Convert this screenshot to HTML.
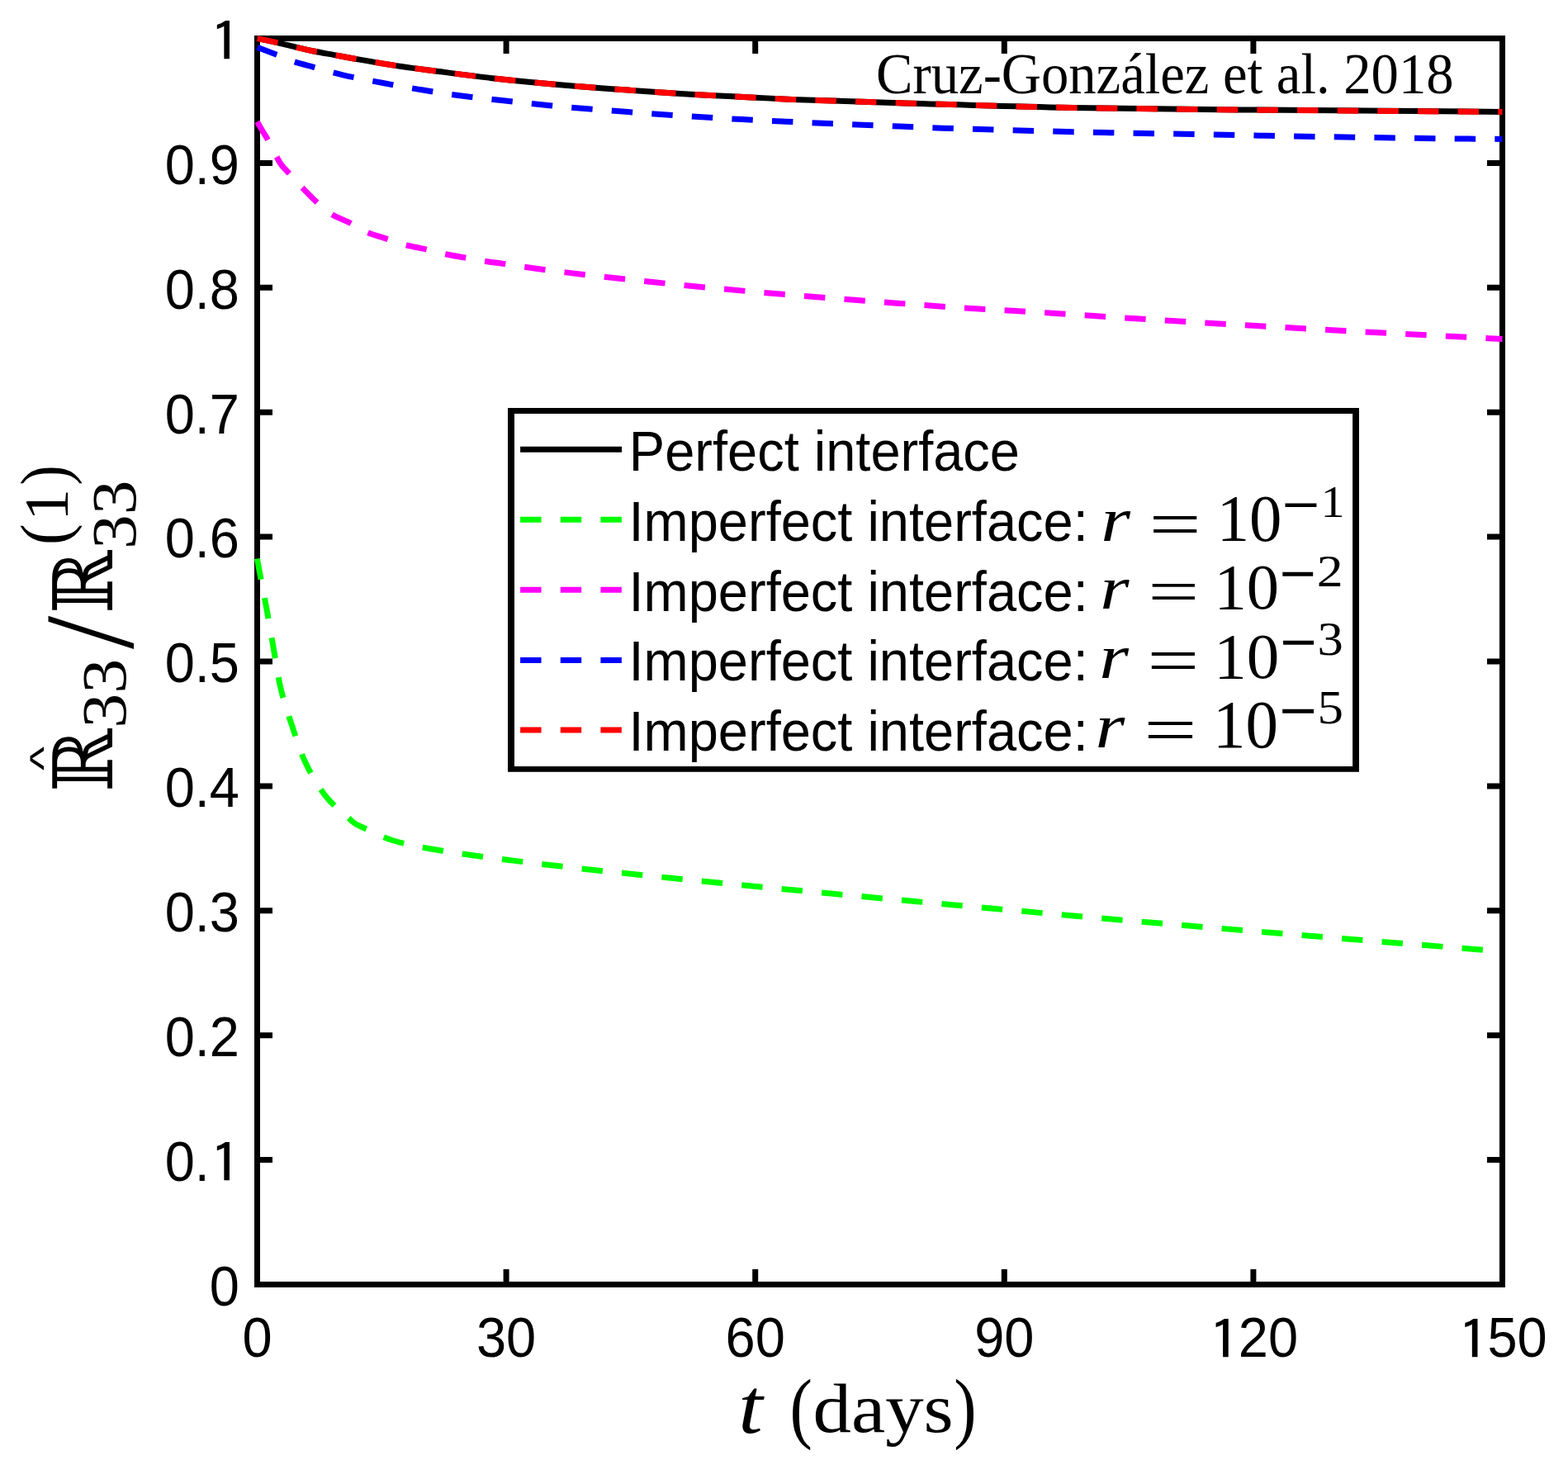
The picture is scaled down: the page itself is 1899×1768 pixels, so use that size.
<!DOCTYPE html>
<html><head><meta charset="utf-8"><title>plot</title>
<style>html,body{margin:0;padding:0;background:#fff;overflow:hidden}svg{display:block}text{font-kerning:none;font-variant-ligatures:none}</style>
</head><body>
<svg width="1899" height="1768" viewBox="0 0 1899 1768">
<rect x="0" y="0" width="1899" height="1768" fill="#fff"/>
<rect x="311.5" y="46.5" width="1508.0" height="1509.0" fill="none" stroke="#000" stroke-width="7"/>
<path d="M311.5,1555.50H330.0M1819.5,1555.50H1801.0" stroke="#000" stroke-width="7"/>
<path d="M311.5,1404.60H330.0M1819.5,1404.60H1801.0" stroke="#000" stroke-width="7"/>
<path d="M311.5,1253.70H330.0M1819.5,1253.70H1801.0" stroke="#000" stroke-width="7"/>
<path d="M311.5,1102.80H330.0M1819.5,1102.80H1801.0" stroke="#000" stroke-width="7"/>
<path d="M311.5,951.90H330.0M1819.5,951.90H1801.0" stroke="#000" stroke-width="7"/>
<path d="M311.5,801.00H330.0M1819.5,801.00H1801.0" stroke="#000" stroke-width="7"/>
<path d="M311.5,650.10H330.0M1819.5,650.10H1801.0" stroke="#000" stroke-width="7"/>
<path d="M311.5,499.20H330.0M1819.5,499.20H1801.0" stroke="#000" stroke-width="7"/>
<path d="M311.5,348.30H330.0M1819.5,348.30H1801.0" stroke="#000" stroke-width="7"/>
<path d="M311.5,197.40H330.0M1819.5,197.40H1801.0" stroke="#000" stroke-width="7"/>
<path d="M311.5,46.50H330.0M1819.5,46.50H1801.0" stroke="#000" stroke-width="7"/>
<path d="M311.50,1555.5V1537.0M311.50,46.5V65.0" stroke="#000" stroke-width="7"/>
<path d="M613.10,1555.5V1537.0M613.10,46.5V65.0" stroke="#000" stroke-width="7"/>
<path d="M914.70,1555.5V1537.0M914.70,46.5V65.0" stroke="#000" stroke-width="7"/>
<path d="M1216.30,1555.5V1537.0M1216.30,46.5V65.0" stroke="#000" stroke-width="7"/>
<path d="M1517.90,1555.5V1537.0M1517.90,46.5V65.0" stroke="#000" stroke-width="7"/>
<path d="M1819.50,1555.5V1537.0M1819.50,46.5V65.0" stroke="#000" stroke-width="7"/>
<path d="M311.50,676.50 C312.13,680.19 312.77,683.90 313.40,687.40 C316.47,704.36 319.53,718.86 322.60,735.60 C325.40,750.88 328.20,767.55 331.00,783.40 C333.87,799.62 336.73,819.52 339.60,831.80 C344.17,851.36 348.73,863.86 353.30,877.70 C358.87,894.56 364.43,911.99 370.00,923.60 C378.53,941.40 387.07,955.12 395.60,965.40 C404.27,975.84 412.93,982.70 421.60,990.20 C424.93,993.09 428.27,996.32 431.60,998.30 C434.70,1000.15 437.80,1001.28 440.90,1002.70 C452.27,1007.89 463.63,1014.09 475.00,1017.50 C490.17,1022.05 505.33,1024.97 520.50,1027.70 C553.43,1033.63 586.37,1037.72 619.30,1041.90 C683.80,1050.08 748.30,1056.63 812.80,1063.30 C877.30,1069.97 941.80,1076.00 1006.30,1082.10 C1040.10,1085.30 1073.90,1088.40 1107.70,1091.50 C1187.13,1098.78 1266.57,1106.08 1346.00,1113.00 C1426.73,1120.03 1507.47,1126.72 1588.20,1133.40 C1652.93,1138.75 1717.67,1144.00 1782.40,1149.20 C1794.10,1150.14 1805.80,1151.07 1817.50,1152.00" fill="none" stroke="#00ff00" stroke-width="7" stroke-linejoin="round" stroke-dasharray="25.45 23.2"/>
<path d="M311.50,147.50 C313.43,150.84 315.37,154.14 317.30,157.40 C319.40,160.94 321.50,164.16 323.60,167.90 C327.23,174.36 330.87,182.44 334.50,189.00 C336.47,192.55 338.43,196.39 340.40,199.10 C343.40,203.23 346.40,205.88 349.40,209.20 C354.83,215.21 360.27,221.24 365.70,226.90 C371.33,232.77 376.97,238.70 382.60,243.80 C389.07,249.66 395.53,255.95 402.00,259.80 C409.30,264.14 416.60,266.27 423.90,269.90 C431.20,273.53 438.50,278.68 445.80,281.70 C453.37,284.83 460.93,286.83 468.50,289.30 C476.37,291.87 484.23,294.78 492.10,296.80 C499.97,298.82 507.83,300.08 515.70,301.90 C523.57,303.72 531.43,306.16 539.30,307.80 C547.17,309.44 555.03,310.62 562.90,312.00 C571.03,313.42 579.17,314.92 587.30,316.20 C595.17,317.43 603.03,318.45 610.90,319.60 C622.50,321.30 634.10,323.25 645.70,324.80 C694.67,331.36 743.63,336.71 792.60,341.80 C841.03,346.83 889.47,351.35 937.90,355.50 C986.33,359.65 1034.77,363.31 1083.20,366.90 C1115.80,369.31 1148.40,371.81 1181.00,373.80 C1197.30,374.80 1213.60,375.55 1229.90,376.50 C1294.60,380.27 1359.30,384.89 1424.00,388.80 C1488.67,392.71 1553.33,396.46 1618.00,400.00 C1685.17,403.68 1752.33,407.19 1819.50,410.50" fill="none" stroke="#ff00ff" stroke-width="7" stroke-linejoin="round" stroke-dasharray="25.45 23.2"/>
<path d="M311.50,57.20 C319.17,60.11 326.83,63.08 334.50,66.10 C341.50,68.85 348.50,72.18 355.50,74.50 C363.60,77.18 371.70,79.08 379.80,81.30 C391.63,84.54 403.47,88.07 415.30,90.80 C431.10,94.45 446.90,97.33 462.70,100.30 C478.70,103.31 494.70,106.20 510.70,108.80 C526.73,111.40 542.77,113.91 558.80,116.00 C575.00,118.11 591.20,119.80 607.40,121.60 C623.63,123.40 639.87,125.18 656.10,126.80 C669.23,128.11 682.37,129.42 695.50,130.50 C763.33,136.10 831.17,140.81 899.00,144.60 C915.13,145.50 931.27,146.25 947.40,147.00 C994.83,149.21 1042.27,151.14 1089.70,153.10 C1107.13,153.82 1124.57,154.61 1142.00,155.20 C1207.33,157.39 1272.67,159.07 1338.00,160.50 C1386.33,161.56 1434.67,162.19 1483.00,163.20 C1499.10,163.54 1515.20,164.00 1531.30,164.30 C1627.37,166.08 1723.43,167.74 1819.50,168.40" fill="none" stroke="#0000ff" stroke-width="7" stroke-linejoin="round" stroke-dasharray="25.45 23.2"/>
<path d="M311.50,46.60 C319.17,48.01 326.83,49.59 334.50,51.30 C342.23,53.03 349.97,55.19 357.70,57.00 C365.13,58.74 372.57,60.49 380.00,62.00 C388.33,63.69 396.67,65.07 405.00,66.60 C413.33,68.13 421.67,69.73 430.00,71.20 C446.67,74.14 463.33,77.10 480.00,79.60 C499.30,82.49 518.60,84.89 537.90,87.40 C557.20,89.91 576.50,92.59 595.80,94.70 C630.20,98.46 664.60,101.63 699.00,104.40 C752.67,108.72 806.33,112.56 860.00,115.50 C876.67,116.41 893.33,117.08 910.00,117.90 C926.50,118.71 943.00,119.72 959.50,120.40 C1005.00,122.28 1050.50,123.53 1096.00,124.90 C1164.00,126.95 1232.00,129.37 1300.00,130.50 C1366.67,131.61 1433.33,132.26 1500.00,132.90 C1606.50,133.93 1713.00,134.84 1819.50,135.40" fill="none" stroke="#000000" stroke-width="7" stroke-linejoin="round"/>
<path d="M311.50,46.60 C319.17,48.01 326.83,49.59 334.50,51.30 C342.23,53.03 349.97,55.19 357.70,57.00 C365.13,58.74 372.57,60.49 380.00,62.00 C388.33,63.69 396.67,65.07 405.00,66.60 C413.33,68.13 421.67,69.73 430.00,71.20 C446.67,74.14 463.33,77.10 480.00,79.60 C499.30,82.49 518.60,84.89 537.90,87.40 C557.20,89.91 576.50,92.59 595.80,94.70 C630.20,98.46 664.60,101.63 699.00,104.40 C752.67,108.72 806.33,112.56 860.00,115.50 C876.67,116.41 893.33,117.08 910.00,117.90 C926.50,118.71 943.00,119.72 959.50,120.40 C1005.00,122.28 1050.50,123.53 1096.00,124.90 C1164.00,126.95 1232.00,129.37 1300.00,130.50 C1366.67,131.61 1433.33,132.26 1500.00,132.90 C1606.50,133.93 1713.00,134.84 1819.50,135.40" fill="none" stroke="#ff0000" stroke-width="7" stroke-linejoin="round" stroke-dasharray="25.45 23.2"/>
<text transform="translate(253.85,1580.80) scale(1.0000,1.0450)" font-family='"Liberation Sans", Arial, sans-serif' font-size="65">0</text>
<text transform="translate(199.64,1429.90) scale(1.0000,1.0450)" font-family='"Liberation Sans", Arial, sans-serif' font-size="65">0.</text>
<text transform="translate(253.24,1433.27) scale(0.8102,0.6641)" font-family='"IPAGothic", "Liberation Sans", sans-serif' font-size="100" fill="#000">1</text>
<text transform="translate(199.64,1279.00) scale(1.0000,1.0450)" font-family='"Liberation Sans", Arial, sans-serif' font-size="65">0.2</text>
<text transform="translate(199.64,1128.10) scale(1.0000,1.0450)" font-family='"Liberation Sans", Arial, sans-serif' font-size="65">0.3</text>
<text transform="translate(199.64,977.20) scale(1.0000,1.0450)" font-family='"Liberation Sans", Arial, sans-serif' font-size="65">0.4</text>
<text transform="translate(199.64,826.30) scale(1.0000,1.0450)" font-family='"Liberation Sans", Arial, sans-serif' font-size="65">0.5</text>
<text transform="translate(199.64,675.40) scale(1.0000,1.0450)" font-family='"Liberation Sans", Arial, sans-serif' font-size="65">0.6</text>
<text transform="translate(199.64,524.50) scale(1.0000,1.0450)" font-family='"Liberation Sans", Arial, sans-serif' font-size="65">0.7</text>
<text transform="translate(199.64,373.60) scale(1.0000,1.0450)" font-family='"Liberation Sans", Arial, sans-serif' font-size="65">0.8</text>
<text transform="translate(199.64,222.70) scale(1.0000,1.0450)" font-family='"Liberation Sans", Arial, sans-serif' font-size="65">0.9</text>
<text transform="translate(253.24,75.17) scale(0.8102,0.6641)" font-family='"IPAGothic", "Liberation Sans", sans-serif' font-size="100" fill="#000">1</text>
<text transform="translate(293.43,1643.20) scale(1.0000,1.0450)" font-family='"Liberation Sans", Arial, sans-serif' font-size="65">0</text>
<text transform="translate(576.95,1643.20) scale(1.0000,1.0450)" font-family='"Liberation Sans", Arial, sans-serif' font-size="65">30</text>
<text transform="translate(878.55,1643.20) scale(1.0000,1.0450)" font-family='"Liberation Sans", Arial, sans-serif' font-size="65">60</text>
<text transform="translate(1180.15,1643.20) scale(1.0000,1.0450)" font-family='"Liberation Sans", Arial, sans-serif' font-size="65">90</text>
<text transform="translate(1463.06,1646.57) scale(0.8102,0.6641)" font-family='"IPAGothic", "Liberation Sans", sans-serif' font-size="100" fill="#000">1</text>
<text transform="translate(1499.83,1643.20) scale(1.0000,1.0450)" font-family='"Liberation Sans", Arial, sans-serif' font-size="65">20</text>
<text transform="translate(1764.66,1646.57) scale(0.8102,0.6641)" font-family='"IPAGothic", "Liberation Sans", sans-serif' font-size="100" fill="#000">1</text>
<text transform="translate(1801.43,1643.20) scale(1.0000,1.0450)" font-family='"Liberation Sans", Arial, sans-serif' font-size="65">50</text>
<text transform="translate(1061.10,113.00) scale(1.0000,1.0404)" font-family='"Liberation Serif", "Times New Roman", serif' font-size="66.65">Cruz-González et al. 2018</text>
<rect x="615" y="494" width="1031" height="440.8" fill="#fff"/>
<path d="M615,494H1646V934.8H615Z M623,501V927.9H1638.1V501Z" fill="#000" fill-rule="evenodd"/>
<path d="M630.1,544.3H753.1" stroke="#000000" stroke-width="7"/>
<path d="M630.1,629.2H753.1" stroke="#00ff00" stroke-width="7" stroke-dasharray="25.45 23.2"/>
<path d="M630.1,714.3H753.1" stroke="#ff00ff" stroke-width="7" stroke-dasharray="25.45 23.2"/>
<path d="M630.1,799.4H753.1" stroke="#0000ff" stroke-width="7" stroke-dasharray="25.45 23.2"/>
<path d="M630.1,884.0H753.1" stroke="#ff0000" stroke-width="7" stroke-dasharray="25.45 23.2"/>
<text transform="translate(761.80,569.80) scale(1.0000,1.0450)" font-family='"Liberation Sans", Arial, sans-serif' font-size="65">Perfect interface</text>
<text transform="translate(761.50,654.80) scale(1.0000,1.0450)" font-family='"Liberation Sans", Arial, sans-serif' font-size="65">Imperfect interface:</text>
<text transform="translate(761.50,739.50) scale(1.0000,1.0450)" font-family='"Liberation Sans", Arial, sans-serif' font-size="65">Imperfect interface:</text>
<text transform="translate(761.50,823.70) scale(1.0000,1.0450)" font-family='"Liberation Sans", Arial, sans-serif' font-size="65">Imperfect interface:</text>
<text transform="translate(761.50,908.80) scale(1.0000,1.0450)" font-family='"Liberation Sans", Arial, sans-serif' font-size="65">Imperfect interface:</text>
<text transform="translate(1333.18,655.00) scale(0.9188,0.7683)" font-family='"Liberation Serif", "Times New Roman", serif' font-size="100" font-style="italic" fill="#000">r</text>
<text transform="translate(1391.61,660.71) scale(1.1218,0.7880)" font-family='"Liberation Serif", "Times New Roman", serif' font-size="100" fill="#000">=</text>
<text transform="translate(1473.67,655.02) scale(0.7883,0.7987)" font-family='"Liberation Serif", "Times New Roman", serif' font-size="100" fill="#000">10</text>
<text transform="translate(1552.34,642.25) scale(0.8145,0.9035)" font-family='"Liberation Serif", "Times New Roman", serif' font-size="100" fill="#000">−</text>
<text transform="translate(1599.38,625.80) scale(0.5823,0.5408)" font-family='"Liberation Serif", "Times New Roman", serif' font-size="100" fill="#000">1</text>
<text transform="translate(1332.32,737.30) scale(0.9074,0.7470)" font-family='"Liberation Serif", "Times New Roman", serif' font-size="100" font-style="italic" fill="#000">r</text>
<text transform="translate(1390.22,742.13) scale(1.1003,0.7600)" font-family='"Liberation Serif", "Times New Roman", serif' font-size="100" fill="#000">=</text>
<text transform="translate(1470.40,737.33) scale(0.7849,0.7928)" font-family='"Liberation Serif", "Times New Roman", serif' font-size="100" fill="#000">10</text>
<text transform="translate(1549.15,726.60) scale(0.7930,0.9638)" font-family='"Liberation Serif", "Times New Roman", serif' font-size="100" fill="#000">−</text>
<text transform="translate(1594.79,709.70) scale(0.6386,0.5558)" font-family='"Liberation Serif", "Times New Roman", serif' font-size="100" fill="#000">2</text>
<text transform="translate(1331.28,820.80) scale(0.9188,0.7577)" font-family='"Liberation Serif", "Times New Roman", serif' font-size="100" font-style="italic" fill="#000">r</text>
<text transform="translate(1389.22,827.18) scale(1.1196,0.7960)" font-family='"Liberation Serif", "Times New Roman", serif' font-size="100" fill="#000">=</text>
<text transform="translate(1470.35,820.73) scale(0.7906,0.7928)" font-family='"Liberation Serif", "Times New Roman", serif' font-size="100" fill="#000">10</text>
<text transform="translate(1550.04,810.00) scale(0.7951,0.9638)" font-family='"Liberation Serif", "Times New Roman", serif' font-size="100" fill="#000">−</text>
<text transform="translate(1595.60,793.05) scale(0.6270,0.5641)" font-family='"Liberation Serif", "Times New Roman", serif' font-size="100" fill="#000">3</text>
<text transform="translate(1326.58,904.50) scale(0.9188,0.7640)" font-family='"Liberation Serif", "Times New Roman", serif' font-size="100" font-style="italic" fill="#000">r</text>
<text transform="translate(1385.32,910.58) scale(1.1411,0.7960)" font-family='"Liberation Serif", "Times New Roman", serif' font-size="100" fill="#000">=</text>
<text transform="translate(1468.96,904.70) scale(0.7895,0.8151)" font-family='"Liberation Serif", "Times New Roman", serif' font-size="100" fill="#000">10</text>
<text transform="translate(1549.04,893.40) scale(0.8145,0.9638)" font-family='"Liberation Serif", "Times New Roman", serif' font-size="100" fill="#000">−</text>
<text transform="translate(1595.44,875.95) scale(0.6305,0.5628)" font-family='"Liberation Serif", "Times New Roman", serif' font-size="100" fill="#000">5</text>
<text transform="translate(894.24,1734.96) scale(1.0594,0.9620)" font-family='"Liberation Serif", "Times New Roman", serif' font-size="100" font-style="italic" fill="#000">t</text>
<text transform="translate(956.39,1735.70) scale(0.8215,0.9440)" font-family='"Liberation Serif", "Times New Roman", serif' font-size="100" fill="#000">(</text>
<text transform="translate(984.55,1733.71) scale(0.9280,0.8476)" font-family='"Liberation Serif", "Times New Roman", serif' font-size="100" fill="#000">days</text>
<text transform="translate(1155.35,1735.70) scale(0.8215,0.9440)" font-family='"Liberation Serif", "Times New Roman", serif' font-size="100" fill="#000">)</text>
<text transform="translate(136.00,958.91) rotate(-90) scale(0.9189,0.9945)" font-family='"DejaVu Serif", serif' font-size="100" fill="#000">ℝ</text>
<text transform="translate(68.25,932.90) rotate(-90) scale(0.6203,0.4703)" font-family='"Liberation Sans", Arial, sans-serif' font-size="100" fill="#000">^</text>
<text transform="translate(151.97,881.82) rotate(-90) scale(0.8411,0.7516)" font-family='"Liberation Serif", "Times New Roman", serif' font-size="100" fill="#000">33</text>
<text transform="translate(159.78,786.00) rotate(-90) scale(1.4469,1.5517)" font-family='"Liberation Serif", "Times New Roman", serif' font-size="100" fill="#000">/</text>
<text transform="translate(135.90,743.02) rotate(-90) scale(0.9215,0.9986)" font-family='"DejaVu Serif", serif' font-size="100" fill="#000">ℝ</text>
<text transform="translate(164.16,665.00) rotate(-90) scale(0.8367,0.7576)" font-family='"Liberation Serif", "Times New Roman", serif' font-size="100" fill="#000">33</text>
<text transform="translate(82.48,660.09) rotate(-90) scale(0.7709,0.8183)" font-family='"Liberation Serif", "Times New Roman", serif' font-size="100" fill="#000">(</text>
<text transform="translate(82.20,631.09) rotate(-90) scale(0.7840,0.7604)" font-family='"Liberation Serif", "Times New Roman", serif' font-size="100" fill="#000">1</text>
<text transform="translate(82.48,587.68) rotate(-90) scale(0.7398,0.8183)" font-family='"Liberation Serif", "Times New Roman", serif' font-size="100" fill="#000">)</text>
</svg>
</body></html>
